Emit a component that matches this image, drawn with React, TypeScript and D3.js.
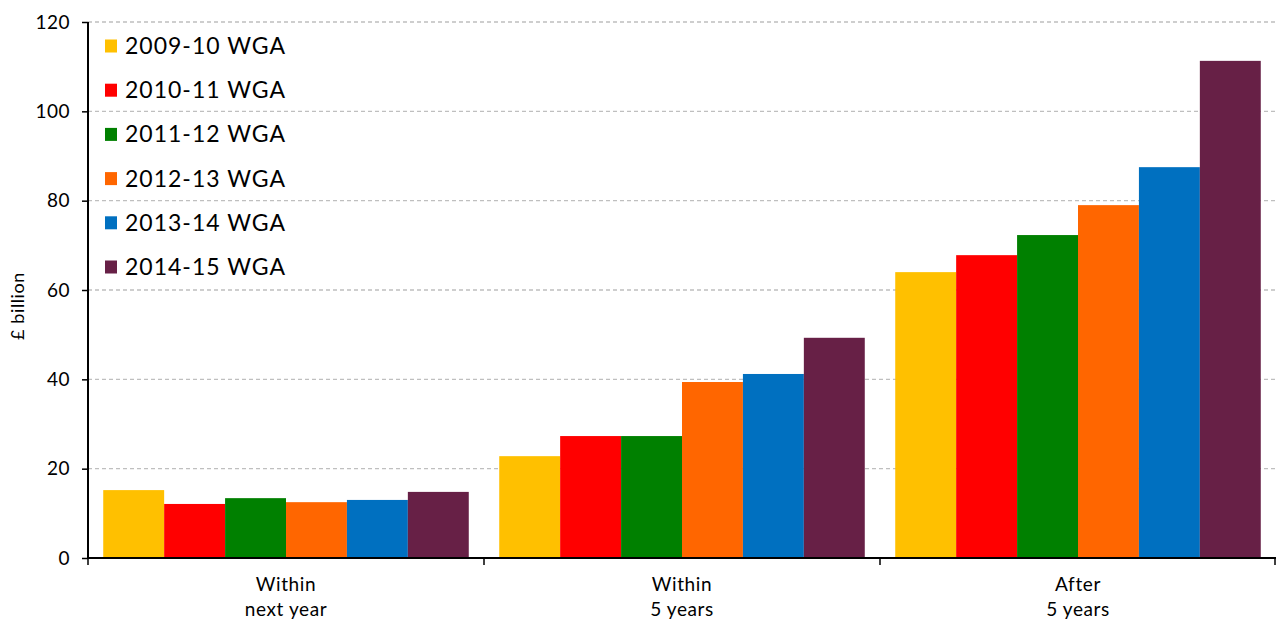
import React, {useEffect, useRef} from 'react'
import * as d3 from 'd3'

const categories = ['Within\nnext year', 'Within\n5 years', 'After\n5 years']
const seriesNames = ['2009-10 WGA', '2010-11 WGA', '2011-12 WGA', '2012-13 WGA', '2013-14 WGA', '2014-15 WGA']
const seriesColors = ['#FFC000', '#FF0000', '#008000', '#FF6600', '#0070C0', '#672046']
// values per series, one per category
const s2009 = [15.2, 22.8, 64.0]
const s2010 = [12.1, 27.3, 67.8]
const s2011 = [13.4, 27.3, 72.3]
const s2012 = [12.5, 39.4, 79.0]
const s2013 = [13.0, 41.2, 87.5]
const s2014 = [14.8, 49.3, 111.3]
const seriesValues = [s2009, s2010, s2011, s2012, s2013, s2014]
const yTicks = [0, 20, 40, 60, 80, 100, 120]

const W = 1276
const H = 623

export default function App() {
    const svgRef = useRef<SVGSVGElement>(null)

    useEffect(() => {
        document.body.style.margin = '0'
        const svg = d3.select(svgRef.current)
        svg.selectAll('*').remove()

        const margin = {top: 22, right: 0, bottom: 65, left: 88}
        const font = 'Lato, "DejaVu Sans", sans-serif'

        const x = d3.scaleBand<number>()
            .domain(categories.map((_, i) => i))
            .range([margin.left, W - margin.right])
        const xInner = d3.scaleBand<number>()
            .domain(seriesNames.map((_, i) => i))
            .range([0, x.bandwidth()])
            .paddingOuter(0.25)
        const y = d3.scaleLinear().domain([0, 120]).range([H - margin.bottom, margin.top])

        // gridlines
        svg.append('g')
            .selectAll('line')
            .data(yTicks.filter(t => t > 0))
            .join('line')
            .attr('x1', margin.left)
            .attr('x2', W - margin.right)
            .attr('y1', d => y(d))
            .attr('y2', d => y(d))
            .attr('stroke', '#bfbfbf')
            .attr('stroke-width', 1.3)
            .attr('stroke-dasharray', '4,3')

        // bars
        const groups = svg.append('g')
            .selectAll('g')
            .data(seriesValues)
            .join('g')
            .attr('fill', (_, i) => seriesColors[i])

        groups.selectAll('rect')
            .data((vals, si) => vals.map((v, ci) => ({v, ci, si})))
            .join('rect')
            .attr('x', d => x(d.ci)! + xInner(d.si)!)
            .attr('width', xInner.bandwidth())
            .attr('y', d => y(d.v))
            .attr('height', d => y(0) - y(d.v))

        // y axis
        const yAxis = svg.append('g')
            .attr('transform', `translate(${margin.left},0)`)
            .call(d3.axisLeft(y).tickValues(yTicks).tickSize(6).tickPadding(12))
        yAxis.select('.domain').attr('stroke', '#000').attr('stroke-width', 2).attr('d', `M0,${y(0)}V${y(120)}`)
        yAxis.selectAll('.tick line').attr('stroke', '#000').attr('stroke-width', 1.5)
        yAxis.selectAll('.tick text')
            .attr('font-family', font)
            .attr('font-size', 19)
            .attr('letter-spacing', 0.5)
            .attr('fill', '#000')

        // x axis
        const base = y(0)
        svg.append('line')
            .attr('x1', margin.left).attr('x2', W)
            .attr('y1', base).attr('y2', base)
            .attr('stroke', '#000').attr('stroke-width', 2)
        const bounds = [...categories.map((_, i) => x(i)!), W - margin.right - 1]
        svg.append('g')
            .selectAll('line')
            .data(bounds)
            .join('line')
            .attr('x1', d => d).attr('x2', d => d)
            .attr('y1', base).attr('y2', base + 7)
            .attr('stroke', '#000').attr('stroke-width', 1.5)

        const xl = svg.append('g')
            .selectAll('text')
            .data(categories)
            .join('text')
            .attr('x', (_, i) => x(i)! + x.bandwidth() / 2)
            .attr('y', base + 33)
            .attr('text-anchor', 'middle')
            .attr('font-family', font)
            .attr('font-size', 19)
            .attr('letter-spacing', 0.6)
            .attr('fill', '#000')
        xl.selectAll('tspan')
            .data(d => d.split('\n'))
            .join('tspan')
            .attr('x', function () {
                return (this.parentNode as SVGTextElement).getAttribute('x')
            })
            .attr('dy', (_, i) => (i === 0 ? 0 : 25))
            .text(d => d)

        // y label
        svg.append('text')
            .attr('transform', `translate(24,${(y(0) + y(120)) / 2 + 16}) rotate(-90)`)
            .attr('text-anchor', 'middle')
            .attr('font-family', font)
            .attr('font-size', 18)
            .attr('letter-spacing', 0.6)
            .attr('fill', '#000')
            .text('£ billion')

        // legend
        const legend = svg.append('g')
            .selectAll('g')
            .data(seriesNames)
            .join('g')
            .attr('transform', (_, i) => `translate(105,${46 + i * 44.2})`)
        legend.append('rect')
            .attr('x', 0).attr('y', -6.5)
            .attr('width', 12).attr('height', 13)
            .attr('fill', (_, i) => seriesColors[i])
        legend.append('text')
            .attr('x', 20).attr('y', 0)
            .attr('dy', '0.35em')
            .attr('font-family', font)
            .attr('font-size', 23)
            .attr('letter-spacing', 1)
            .attr('fill', '#000')
            .text(d => d)
    }, [])

    return (
        <svg ref={svgRef} width={W} height={H} style={{display: 'block', background: '#fff'}} />
    )
}
